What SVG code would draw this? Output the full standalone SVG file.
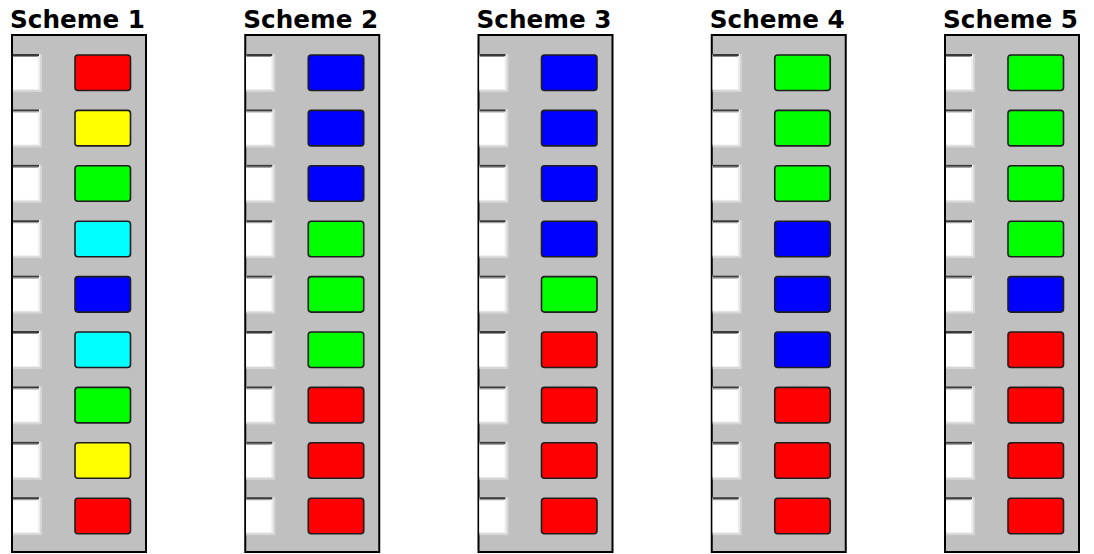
<svg xmlns="http://www.w3.org/2000/svg" width="1094" height="554" viewBox="0 0 1094 554">
<defs>
<style>
.title{font-family:"Century Gothic","URW Gothic","DejaVu Sans","Liberation Sans",sans-serif;font-weight:bold;font-size:25px;fill:#000}
.panel{fill:#c0c0c0;stroke:#000;stroke-width:2}
.sw{stroke:#1e1e1e;stroke-width:1.6}
.r{fill:#ff0000}.y{fill:#ffff00}.g{fill:#00ff00}.c{fill:#00ffff}.b{fill:#0000ff}
</style>
<g id="wb">
<rect x="0" y="0" width="29" height="38" fill="#d6d6d6"/>
<rect x="0" y="0" width="27" height="36" fill="#eeeeee"/>
<rect x="0" y="1" width="25" height="34" fill="#ffffff"/>
<rect x="0" y="0" width="26" height="2" fill="#3a3a3a"/>
<rect x="0" y="2" width="25" height="1" fill="#909090"/>
</g>
</defs>
<rect width="1094" height="554" fill="#ffffff"/>

<g id="scheme1">
<text class="title" x="10" y="28" textLength="135" lengthAdjust="spacingAndGlyphs">Scheme 1</text>
<rect class="panel" x="12" y="35" width="134" height="517"/>
<use href="#wb" x="13" y="54"/><use href="#wb" x="13" y="109.4"/><use href="#wb" x="13" y="164.8"/><use href="#wb" x="13" y="220.2"/><use href="#wb" x="13" y="275.6"/><use href="#wb" x="13" y="331"/><use href="#wb" x="13" y="386.4"/><use href="#wb" x="13" y="441.8"/><use href="#wb" x="13" y="497.2"/>
<rect class="sw r" x="75" y="55" width="55.5" height="35.5" rx="3"/>
<rect class="sw y" x="75" y="110.4" width="55.5" height="35.5" rx="3"/>
<rect class="sw g" x="75" y="165.8" width="55.5" height="35.5" rx="3"/>
<rect class="sw c" x="75" y="221.2" width="55.5" height="35.5" rx="3"/>
<rect class="sw b" x="75" y="276.6" width="55.5" height="35.5" rx="3"/>
<rect class="sw c" x="75" y="332" width="55.5" height="35.5" rx="3"/>
<rect class="sw g" x="75" y="387.4" width="55.5" height="35.5" rx="3"/>
<rect class="sw y" x="75" y="442.8" width="55.5" height="35.5" rx="3"/>
<rect class="sw r" x="75" y="498.2" width="55.5" height="35.5" rx="3"/>
</g>

<g id="scheme2" transform="translate(233.25,0)">
<text class="title" x="10" y="28" textLength="135" lengthAdjust="spacingAndGlyphs">Scheme 2</text>
<rect class="panel" x="12" y="35" width="134" height="517"/>
<use href="#wb" x="13" y="54"/><use href="#wb" x="13" y="109.4"/><use href="#wb" x="13" y="164.8"/><use href="#wb" x="13" y="220.2"/><use href="#wb" x="13" y="275.6"/><use href="#wb" x="13" y="331"/><use href="#wb" x="13" y="386.4"/><use href="#wb" x="13" y="441.8"/><use href="#wb" x="13" y="497.2"/>
<rect class="sw b" x="75" y="55" width="55.5" height="35.5" rx="3"/>
<rect class="sw b" x="75" y="110.4" width="55.5" height="35.5" rx="3"/>
<rect class="sw b" x="75" y="165.8" width="55.5" height="35.5" rx="3"/>
<rect class="sw g" x="75" y="221.2" width="55.5" height="35.5" rx="3"/>
<rect class="sw g" x="75" y="276.6" width="55.5" height="35.5" rx="3"/>
<rect class="sw g" x="75" y="332" width="55.5" height="35.5" rx="3"/>
<rect class="sw r" x="75" y="387.4" width="55.5" height="35.5" rx="3"/>
<rect class="sw r" x="75" y="442.8" width="55.5" height="35.5" rx="3"/>
<rect class="sw r" x="75" y="498.2" width="55.5" height="35.5" rx="3"/>
</g>

<g id="scheme3" transform="translate(466.5,0)">
<text class="title" x="10" y="28" textLength="135" lengthAdjust="spacingAndGlyphs">Scheme 3</text>
<rect class="panel" x="12" y="35" width="134" height="517"/>
<use href="#wb" x="13" y="54"/><use href="#wb" x="13" y="109.4"/><use href="#wb" x="13" y="164.8"/><use href="#wb" x="13" y="220.2"/><use href="#wb" x="13" y="275.6"/><use href="#wb" x="13" y="331"/><use href="#wb" x="13" y="386.4"/><use href="#wb" x="13" y="441.8"/><use href="#wb" x="13" y="497.2"/>
<rect class="sw b" x="75" y="55" width="55.5" height="35.5" rx="3"/>
<rect class="sw b" x="75" y="110.4" width="55.5" height="35.5" rx="3"/>
<rect class="sw b" x="75" y="165.8" width="55.5" height="35.5" rx="3"/>
<rect class="sw b" x="75" y="221.2" width="55.5" height="35.5" rx="3"/>
<rect class="sw g" x="75" y="276.6" width="55.5" height="35.5" rx="3"/>
<rect class="sw r" x="75" y="332" width="55.5" height="35.5" rx="3"/>
<rect class="sw r" x="75" y="387.4" width="55.5" height="35.5" rx="3"/>
<rect class="sw r" x="75" y="442.8" width="55.5" height="35.5" rx="3"/>
<rect class="sw r" x="75" y="498.2" width="55.5" height="35.5" rx="3"/>
</g>

<g id="scheme4" transform="translate(699.75,0)">
<text class="title" x="10" y="28" textLength="135" lengthAdjust="spacingAndGlyphs">Scheme 4</text>
<rect class="panel" x="12" y="35" width="134" height="517"/>
<use href="#wb" x="13" y="54"/><use href="#wb" x="13" y="109.4"/><use href="#wb" x="13" y="164.8"/><use href="#wb" x="13" y="220.2"/><use href="#wb" x="13" y="275.6"/><use href="#wb" x="13" y="331"/><use href="#wb" x="13" y="386.4"/><use href="#wb" x="13" y="441.8"/><use href="#wb" x="13" y="497.2"/>
<rect class="sw g" x="75" y="55" width="55.5" height="35.5" rx="3"/>
<rect class="sw g" x="75" y="110.4" width="55.5" height="35.5" rx="3"/>
<rect class="sw g" x="75" y="165.8" width="55.5" height="35.5" rx="3"/>
<rect class="sw b" x="75" y="221.2" width="55.5" height="35.5" rx="3"/>
<rect class="sw b" x="75" y="276.6" width="55.5" height="35.5" rx="3"/>
<rect class="sw b" x="75" y="332" width="55.5" height="35.5" rx="3"/>
<rect class="sw r" x="75" y="387.4" width="55.5" height="35.5" rx="3"/>
<rect class="sw r" x="75" y="442.8" width="55.5" height="35.5" rx="3"/>
<rect class="sw r" x="75" y="498.2" width="55.5" height="35.5" rx="3"/>
</g>

<g id="scheme5" transform="translate(933,0)">
<text class="title" x="10" y="28" textLength="135" lengthAdjust="spacingAndGlyphs">Scheme 5</text>
<rect class="panel" x="12" y="35" width="134" height="517"/>
<use href="#wb" x="13" y="54"/><use href="#wb" x="13" y="109.4"/><use href="#wb" x="13" y="164.8"/><use href="#wb" x="13" y="220.2"/><use href="#wb" x="13" y="275.6"/><use href="#wb" x="13" y="331"/><use href="#wb" x="13" y="386.4"/><use href="#wb" x="13" y="441.8"/><use href="#wb" x="13" y="497.2"/>
<rect class="sw g" x="75" y="55" width="55.5" height="35.5" rx="3"/>
<rect class="sw g" x="75" y="110.4" width="55.5" height="35.5" rx="3"/>
<rect class="sw g" x="75" y="165.8" width="55.5" height="35.5" rx="3"/>
<rect class="sw g" x="75" y="221.2" width="55.5" height="35.5" rx="3"/>
<rect class="sw b" x="75" y="276.6" width="55.5" height="35.5" rx="3"/>
<rect class="sw r" x="75" y="332" width="55.5" height="35.5" rx="3"/>
<rect class="sw r" x="75" y="387.4" width="55.5" height="35.5" rx="3"/>
<rect class="sw r" x="75" y="442.8" width="55.5" height="35.5" rx="3"/>
<rect class="sw r" x="75" y="498.2" width="55.5" height="35.5" rx="3"/>
</g>
</svg>
